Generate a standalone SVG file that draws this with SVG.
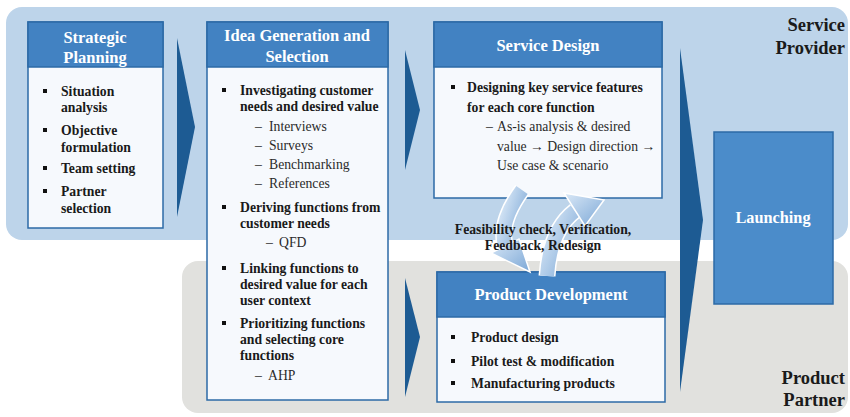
<svg xmlns="http://www.w3.org/2000/svg" width="850" height="417" viewBox="0 0 850 417">
<defs>
<style>
text{font-family:"Liberation Serif","Times New Roman",serif;}
.hd{font-size:16.5px;font-weight:bold;fill:#ffffff;text-anchor:middle;}
.b{font-size:13.7px;font-weight:bold;fill:#1a1a1a;}
.s{font-size:13.7px;fill:#2a2a2a;}
.lab{font-size:18.5px;font-weight:bold;fill:#1a1a1a;text-anchor:end;}
.hdr{fill:#4282c2;stroke:#2c6aa6;stroke-width:1.5;}
.body{fill:#f6f9fd;stroke:#2c6aa6;stroke-width:1.5;}
.chev{fill:#1d5b93;}
.bul{fill:#111;}
</style>
<linearGradient id="cg" x1="0" y1="0" x2="1" y2="1">
<stop offset="0" stop-color="#dbe9f7"/>
<stop offset="1" stop-color="#7ba7d6"/>
</linearGradient>
</defs>

<!-- swimlanes -->
<rect x="6" y="7" width="842" height="233" rx="16" fill="#bdd4ea"/>
<rect x="182" y="261" width="666" height="152" rx="16" fill="#e1e1de"/>
<text class="lab" x="845" y="31">Service</text>
<text class="lab" x="845" y="54">Provider</text>
<text class="lab" x="845" y="384">Product</text>
<text class="lab" x="845" y="406">Partner</text>

<g id="connectors">
<polygon class="chev" points="177,38 195,127 177,217"/>
<polygon class="chev" points="405,50 420,110 405,170"/>
<polygon class="chev" points="405,278 420,337 405,397"/>
<polygon class="chev" points="680,48 703,220 680,392"/>
</g>

<g id="strategic-planning">
<rect class="body" x="28" y="22" width="135" height="206"/>
<rect class="hdr" x="28" y="22" width="135" height="45"/>
<text class="hd" x="95" y="43">Strategic</text>
<text class="hd" x="95" y="63">Planning</text>
<rect class="bul" x="43" y="89" width="4" height="4"/>
<text class="b" x="61" y="96">Situation</text>
<text class="b" x="61" y="112">analysis</text>
<rect class="bul" x="43" y="128" width="4" height="4"/>
<text class="b" x="61" y="135">Objective</text>
<text class="b" x="61" y="152">formulation</text>
<rect class="bul" x="43" y="166" width="4" height="4"/>
<text class="b" x="61" y="173">Team setting</text>
<rect class="bul" x="43" y="189" width="4" height="4"/>
<text class="b" x="61" y="196">Partner</text>
<text class="b" x="61" y="213">selection</text>
</g>

<g id="idea-generation">
<rect class="body" x="207" y="22" width="181" height="378"/>
<rect class="hdr" x="207" y="22" width="181" height="45"/>
<text class="hd" x="297" y="41">Idea Generation and</text>
<text class="hd" x="297" y="62">Selection</text>
<rect class="bul" x="222" y="88" width="4" height="4"/>
<text class="b" x="240" y="95">Investigating customer</text>
<text class="b" x="240" y="111">needs and desired value</text>
<text class="s" x="255" y="131">–</text><text class="s" x="269" y="131">Interviews</text>
<text class="s" x="255" y="150">–</text><text class="s" x="269" y="150">Surveys</text>
<text class="s" x="255" y="169">–</text><text class="s" x="269" y="169">Benchmarking</text>
<text class="s" x="255" y="188">–</text><text class="s" x="269" y="188">References</text>
<rect class="bul" x="222" y="205" width="4" height="4"/>
<text class="b" x="240" y="212">Deriving functions from</text>
<text class="b" x="240" y="228">customer needs</text>
<text class="s" x="266" y="247">–</text><text class="s" x="279" y="247">QFD</text>
<rect class="bul" x="222" y="266" width="4" height="4"/>
<text class="b" x="240" y="273">Linking functions to</text>
<text class="b" x="240" y="289">desired value for each</text>
<text class="b" x="240" y="305">user context</text>
<rect class="bul" x="222" y="321" width="4" height="4"/>
<text class="b" x="240" y="328">Prioritizing functions</text>
<text class="b" x="240" y="344">and selecting core</text>
<text class="b" x="240" y="360">functions</text>
<text class="s" x="255" y="380">–</text><text class="s" x="268" y="380">AHP</text>
</g>

<g id="service-design">
<rect class="body" x="434" y="22" width="228" height="176"/>
<rect class="hdr" x="434" y="22" width="228" height="45"/>
<text class="hd" x="548" y="51">Service Design</text>
<rect class="bul" x="451" y="85" width="4" height="4"/>
<text class="b" x="467" y="92">Designing key service features</text>
<text class="b" x="467" y="112">for each core function</text>
<text class="s" x="486" y="131">–</text><text class="s" x="497" y="131">As-is analysis &amp; desired</text>
<text class="s" x="497" y="151">value → Design direction →</text>
<text class="s" x="497" y="170">Use case &amp; scenario</text>
</g>

<g id="product-development">
<rect class="body" x="437" y="272" width="228" height="130"/>
<rect class="hdr" x="437" y="272" width="228" height="45"/>
<text class="hd" x="551" y="300">Product Development</text>
<rect class="bul" x="451" y="335" width="4" height="4"/>
<text class="b" x="471" y="342">Product design</text>
<rect class="bul" x="451" y="359" width="4" height="4"/>
<text class="b" x="471" y="366">Pilot test &amp; modification</text>
<rect class="bul" x="451" y="381" width="4" height="4"/>
<text class="b" x="471" y="388">Manufacturing products</text>
</g>

<g id="feedback-loop">
<path d="M522 190 Q496 226 507 251" fill="none" stroke="#ffffff" stroke-width="17"/>
<path d="M522 190 Q496 226 507 251" fill="none" stroke="url(#cg)" stroke-width="14"/>
<polygon points="491,253 530,272 519,239" fill="url(#cg)" stroke="#ffffff" stroke-width="1.5"/>
<path d="M547 276 Q550 230 575 211" fill="none" stroke="#ffffff" stroke-width="17"/>
<path d="M547 276 Q550 230 575 211" fill="none" stroke="url(#cg)" stroke-width="14"/>
<polygon points="564,193 604,200 585,226" fill="url(#cg)" stroke="#ffffff" stroke-width="1.5"/>
<text class="b" x="543" y="234" text-anchor="middle">Feasibility check, Verification,</text>
<text class="b" x="543" y="250" text-anchor="middle">Feedback, Redesign</text>
</g>

<g id="launching">
<rect x="714" y="132" width="119" height="172" fill="#4b8cca" stroke="#2c6aa6" stroke-width="1.5"/>
<text class="hd" x="773" y="223" style="font-size:16.3px">Launching</text>
</g>
</svg>
